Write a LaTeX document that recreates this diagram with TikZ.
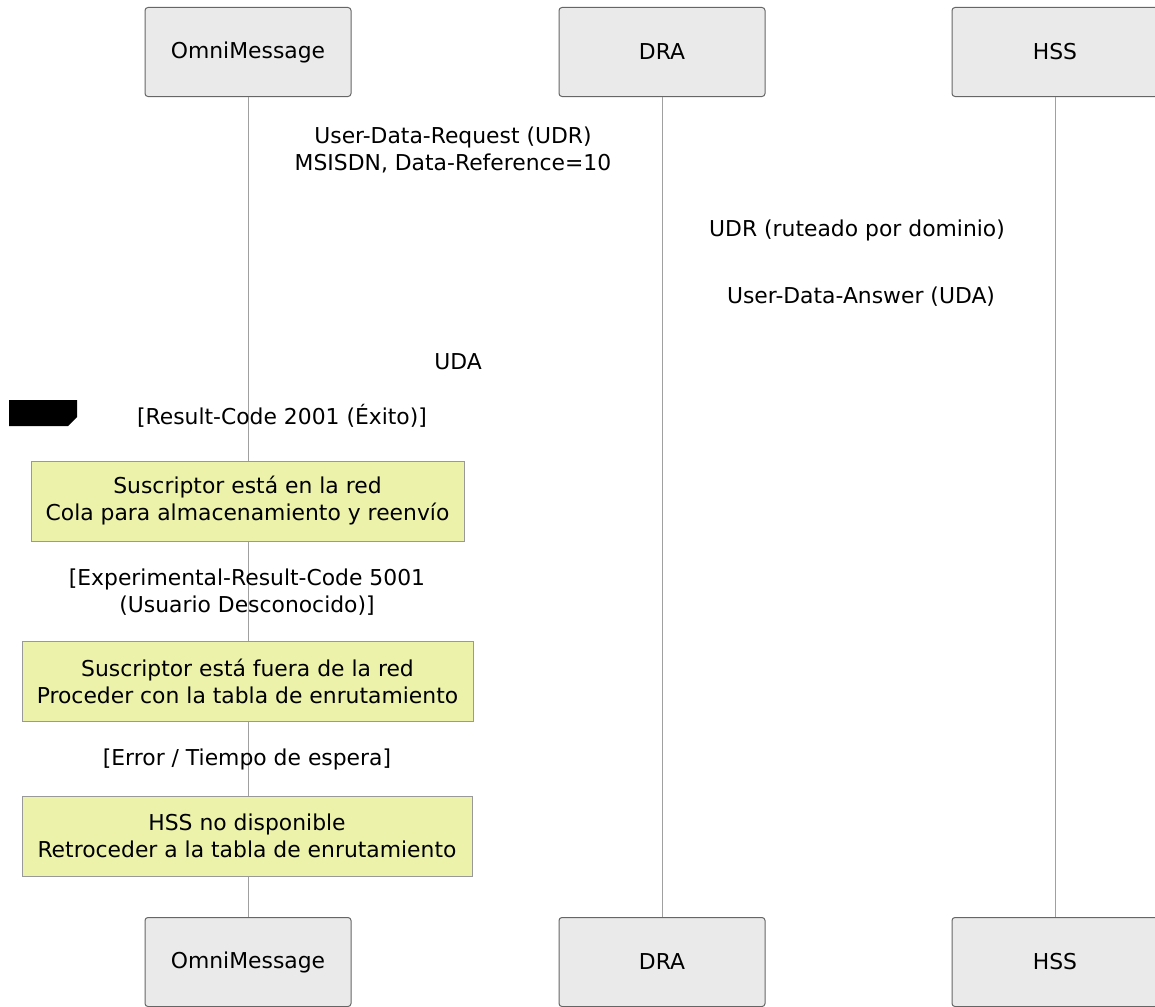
\documentclass[tikz,border=0pt]{standalone}
\usepackage{fontspec}
\setmainfont{DejaVu Sans}
\definecolor{actorfill}{HTML}{EAEAEA}
\definecolor{actorline}{HTML}{666666}
\definecolor{notefill}{HTML}{ECF2AA}
\definecolor{noteline}{HTML}{999999}
\definecolor{lifegray}{HTML}{A0A0A0}
\begin{document}
\begin{tikzpicture}[x=0.75pt, y=-0.75pt,
    txt/.style={font=\fontsize{16.4pt}{20.25pt}\selectfont},
    actorbox/.style={txt, draw=actorline, fill=actorfill, rounded corners=2.25pt,
      minimum width=154.5pt, minimum height=66.75pt, line width=0.75pt},
    notebox/.style={txt, draw=noteline, fill=notefill, align=center,
      minimum height=60pt, inner sep=0pt, line width=0.75pt},
    msg/.style={txt, align=center},
    lifeline/.style={draw=lifegray, line width=0.75pt}]
  \useasboundingbox (0,0) rectangle (1155,1006);
  % actors, top and bottom
  \node [actorbox] (omniTop) at (248,52) {OmniMessage};
  \node [actorbox] (draTop) at (662,52) {DRA};
  \node [actorbox] (hssTop) at (1055,52) {HSS};
  \node [actorbox] (omniBot) at (248,962) {OmniMessage};
  \node [actorbox] (draBot) at (662,962) {DRA};
  \node [actorbox] (hssBot) at (1055,962) {HSS};
  % lifelines
  \draw [lifeline] (omniTop) -- (omniBot);
  \draw [lifeline] (draTop) -- (draBot);
  \draw [lifeline] (hssTop) -- (hssBot);
  % messages
  \node [msg] (udrReq) at (453,150) {User-Data-Request (UDR)\\MSISDN, Data-Reference=10};
  \node [msg] (udrFwd) at (857,230) {UDR (ruteado por dominio)};
  \node [msg] (udaAns) at (861,297) {User-Data-Answer (UDA)};
  \node [msg] (udaBack) at (458,362) {UDA};
  % alt block
  \fill (9,400) -- (77,400) -- (77,417) -- (68,426) -- (9,426) -- cycle;
  \node [msg] (caseOk) at (282,416) {[Result-Code 2001 (Éxito)]};
  \node [notebox, minimum width=324.75pt] (noteOk) at (247.5,501)
    {Suscriptor está en la red\\Cola para almacenamiento y reenvío};
  \node [msg] (caseUnknown) at (247,592)
    {[Experimental-Result-Code 5001\\(Usuario Desconocido)]};
  \node [notebox, minimum width=338.25pt] (noteUnknown) at (247.5,681)
    {Suscriptor está fuera de la red\\Proceder con la tabla de enrutamiento};
  \node [msg] (caseError) at (247,759) {[Error / Tiempo de espera]};
  \node [notebox, minimum width=337.5pt] (noteError) at (247,836)
    {HSS no disponible\\Retroceder a la tabla de enrutamiento};
\end{tikzpicture}
\end{document}
